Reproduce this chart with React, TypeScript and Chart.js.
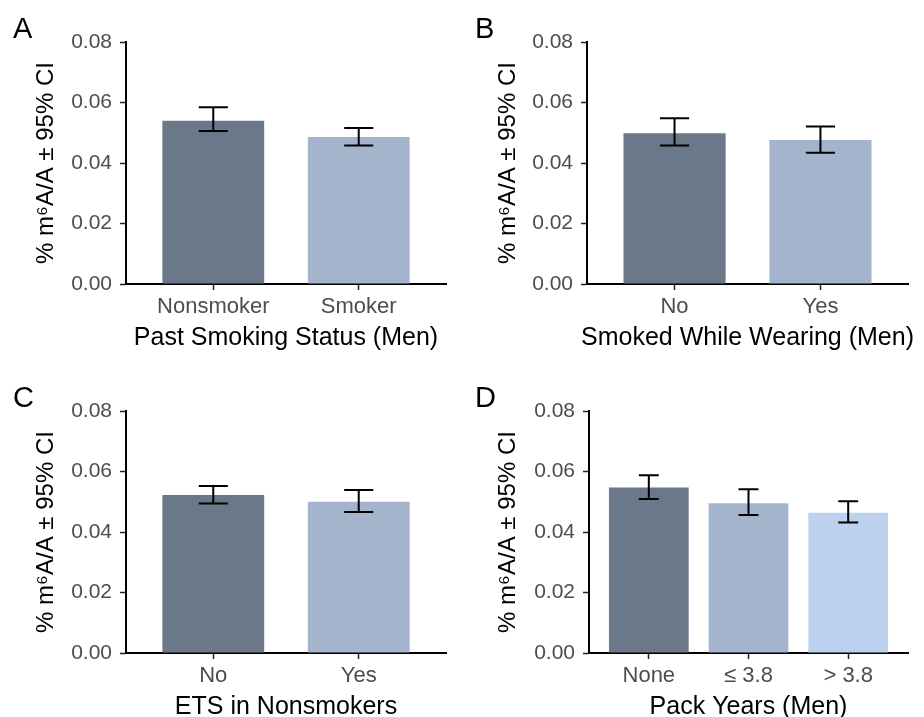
import React, { useEffect, useRef } from "react";
import { Chart, registerables } from "chart.js";

Chart.register(...registerables);

const FONT = "'Liberation Sans', Arial, Helvetica, sans-serif";
const COLOR_DARK = "#6B7889";
const COLOR_MID = "#A3B4CC";
const COLOR_LIGHT = "#BDD1EE";
const TICK_GREY = "#4D4D4D";

const yTickValues = [0, 0.02, 0.04, 0.06, 0.08];
const yAxisTitle = "% m⁶A/A ± 95% CI";

// Panel A
const catsA = ["Nonsmoker", "Smoker"];
const meanA = [0.054, 0.0486];
const lowerA = [0.0506, 0.0458];
const upperA = [0.0584, 0.0516];

// Panel B
const catsB = ["No", "Yes"];
const meanB = [0.0498, 0.0476];
const lowerB = [0.0458, 0.0434];
const upperB = [0.0548, 0.0521];

// Panel C
const catsC = ["No", "Yes"];
const meanC = [0.0522, 0.05];
const lowerC = [0.0494, 0.0466];
const upperC = [0.0552, 0.0539];

// Panel D
const catsD = ["None", "≤ 3.8", "> 3.8"];
const meanD = [0.0547, 0.0495, 0.0464];
const lowerD = [0.0509, 0.0456, 0.0431];
const upperD = [0.0588, 0.0541, 0.0502];

type PanelDef = {
  letter: string;
  cats: string[];
  mean: number[];
  lower: number[];
  upper: number[];
  colors: string[];
  xTitle: string;
  barPct: number;
  left: number;
  top: number;
  width: number;
  height: number;
  yAxisWidth: number;
  padTop: number;
  padRight: number;
  xAxisHeight: number;
};

const panels: PanelDef[] = [
  {
    letter: "A", cats: catsA, mean: meanA, lower: lowerA, upper: upperA,
    colors: [COLOR_DARK, COLOR_MID], xTitle: "Past Smoking Status (Men)", barPct: 0.7,
    left: 0, top: 0, width: 462, height: 358, yAxisWidth: 126, padTop: 42, padRight: 16, xAxisHeight: 74,
  },
  {
    letter: "B", cats: catsB, mean: meanB, lower: lowerB, upper: upperB,
    colors: [COLOR_DARK, COLOR_MID], xTitle: "Smoked While Wearing (Men)", barPct: 0.7,
    left: 462, top: 0, width: 462, height: 358, yAxisWidth: 125, padTop: 42, padRight: 16, xAxisHeight: 74,
  },
  {
    letter: "C", cats: catsC, mean: meanC, lower: lowerC, upper: upperC,
    colors: [COLOR_DARK, COLOR_MID], xTitle: "ETS in Nonsmokers", barPct: 0.7,
    left: 0, top: 358, width: 462, height: 359, yAxisWidth: 126, padTop: 53, padRight: 16, xAxisHeight: 64,
  },
  {
    letter: "D", cats: catsD, mean: meanD, lower: lowerD, upper: upperD,
    colors: [COLOR_DARK, COLOR_MID, COLOR_LIGHT], xTitle: "Pack Years (Men)", barPct: 0.8,
    left: 462, top: 358, width: 462, height: 359, yAxisWidth: 127, padTop: 53, padRight: 16, xAxisHeight: 64,
  },
];

function PanelChart({ p }: { p: PanelDef }) {
  const ref = useRef<HTMLCanvasElement | null>(null);

  useEffect(() => {
    if (!ref.current) return;

    const decor = {
      id: "decor" + p.letter,
      afterDatasetsDraw(chart: any) {
        const ctx = chart.ctx;
        const xs = chart.scales.x;
        const ys = chart.scales.y;
        ctx.save();
        ctx.strokeStyle = "#000000";
        ctx.lineWidth = 2;
        p.mean.forEach((_, i) => {
          const cx = xs.getPixelForValue(i);
          const half = xs.getPixelForValue(i + 0.1) - cx;
          const yl = ys.getPixelForValue(p.lower[i]);
          const yu = ys.getPixelForValue(p.upper[i]);
          ctx.beginPath();
          ctx.moveTo(cx, yl);
          ctx.lineTo(cx, yu);
          ctx.moveTo(cx - half, yu);
          ctx.lineTo(cx + half, yu);
          ctx.moveTo(cx - half, yl);
          ctx.lineTo(cx + half, yl);
          ctx.stroke();
        });
        ctx.restore();
      },
      afterDraw(chart: any) {
        const ctx = chart.ctx;
        const area = chart.chartArea;
        ctx.save();
        ctx.fillStyle = "#000000";
        ctx.textBaseline = "alphabetic";
        // x-axis title
        ctx.font = `25px ${FONT}`;
        ctx.textAlign = "center";
        ctx.fillText(p.xTitle, (area.left + area.right) / 2, area.bottom + 60.5);
        // panel letter
        ctx.font = `29px ${FONT}`;
        ctx.textAlign = "left";
        ctx.fillText(p.letter, 13, area.top - 4);
        ctx.restore();
      },
    };

    const chart = new Chart(ref.current, {
      type: "bar",
      data: {
        datasets: [
          {
            data: p.mean.map((v, i) => ({ x: i, y: v })),
            backgroundColor: p.colors,
            borderWidth: 0,
            categoryPercentage: 1,
            barPercentage: p.barPct,
          } as any,
        ],
      },
      options: {
        responsive: false,
        animation: false,
        layout: { padding: { top: p.padTop, right: p.padRight, left: 0, bottom: 0 } },
        plugins: { legend: { display: false }, tooltip: { enabled: false } },
        scales: {
          x: {
            type: "linear",
            min: -0.6,
            max: p.cats.length - 1 + 0.6,
            offset: false,
            z: 1,
            afterBuildTicks: (scale: any) => {
              scale.ticks = p.cats.map((_, i) => ({ value: i }));
            },
            afterFit: (scale: any) => {
              scale.height = p.xAxisHeight;
            },
            ticks: {
              callback: (v: any) => p.cats[Math.round(Number(v))] ?? "",
              color: TICK_GREY,
              font: { family: FONT, size: 22 },
              padding: 4,
              maxRotation: 0,
              autoSkip: false,
            },
            grid: {
              offset: false,
              drawOnChartArea: false,
              drawTicks: true,
              tickLength: 6,
              tickColor: "#222222",
              tickWidth: 1.5,
            },
            border: { display: true, color: "#000000", width: 2 },
          } as any,
          y: {
            type: "linear",
            min: 0,
            max: 0.08,
            z: 1,
            afterBuildTicks: (scale: any) => {
              scale.ticks = yTickValues.map((v) => ({ value: v }));
            },
            afterFit: (scale: any) => {
              scale.width = p.yAxisWidth;
            },
            ticks: {
              callback: (v: any) => Number(v).toFixed(2),
              color: TICK_GREY,
              font: { family: FONT, size: 21 },
              padding: 8,
            },
            grid: {
              drawOnChartArea: false,
              drawTicks: true,
              tickLength: 6,
              tickColor: "#222222",
              tickWidth: 1.5,
            },
            border: { display: true, color: "#000000", width: 2 },
            title: {
              display: true,
              text: yAxisTitle,
              color: "#000000",
              font: { family: FONT, size: 24, lineHeight: 1 },
              padding: { top: 34, bottom: 0 },
            },
          } as any,
        },
      },
      plugins: [decor],
    });

    return () => chart.destroy();
  }, [p]);

  return (
    <canvas
      ref={ref}
      width={p.width}
      height={p.height}
      style={{ position: "absolute", left: p.left, top: p.top, width: p.width, height: p.height }}
    />
  );
}

export default function App() {
  return (
    <div
      style={{
        position: "fixed",
        left: 0,
        top: 0,
        width: 924,
        height: 717,
        background: "#ffffff",
        overflow: "hidden",
      }}
    >
      {panels.map((p) => (
        <PanelChart key={p.letter} p={p} />
      ))}
    </div>
  );
}
